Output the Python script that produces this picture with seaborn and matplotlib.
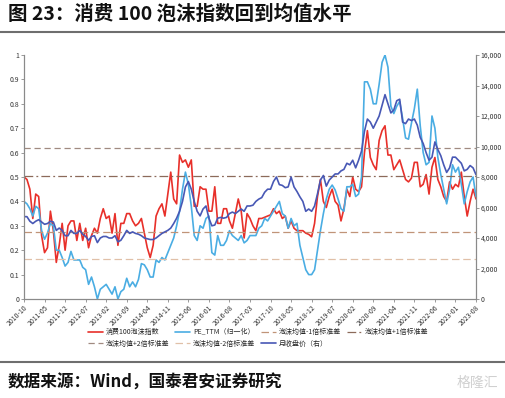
import numpy as np
import pandas as pd
import matplotlib
matplotlib.use("Agg")
import matplotlib.pyplot as plt
from matplotlib.lines import Line2D
import seaborn as sns

# datos (mensual, 2010-10 a 2023-08)
meses = pd.date_range("2010-10-01", periods=155, freq="MS").strftime("%Y-%m").tolist()

burbuja = [
    0.50, 0.49, 0.45, 0.33, 0.43, 0.42, 0.26, 0.19, 0.21, 0.36,
    0.28, 0.15, 0.22, 0.31, 0.20, 0.30, 0.32, 0.32, 0.24, 0.31,
    0.24, 0.29, 0.21, 0.26, 0.29, 0.27, 0.33, 0.37, 0.33, 0.34,
    0.27, 0.35, 0.22, 0.31, 0.31, 0.35, 0.35, 0.32, 0.30, 0.31,
    0.33, 0.27, 0.21, 0.17, 0.22, 0.34, 0.37, 0.39, 0.34, 0.43,
    0.52, 0.41, 0.39, 0.59, 0.56, 0.57, 0.54, 0.57, 0.38, 0.38,
    0.46, 0.45, 0.45, 0.36, 0.36, 0.46, 0.31, 0.31, 0.37, 0.37,
    0.32, 0.29, 0.35, 0.41, 0.36, 0.25, 0.35, 0.33, 0.30, 0.28,
    0.33, 0.33, 0.335, 0.34, 0.345, 0.37, 0.35, 0.36, 0.33, 0.34,
    0.29, 0.32, 0.29, 0.28, 0.28, 0.28, 0.27, 0.265, 0.255, 0.31,
    0.42, 0.49, 0.40, 0.375, 0.42, 0.45, 0.40, 0.385, 0.32, 0.37,
    0.45, 0.42, 0.50, 0.45, 0.44, 0.46, 0.60, 0.69, 0.58, 0.55,
    0.53, 0.65, 0.69, 0.71, 0.59, 0.59, 0.53, 0.55, 0.57, 0.53,
    0.49, 0.48, 0.495, 0.56, 0.56, 0.46, 0.47, 0.51, 0.43, 0.54,
    0.58, 0.49, 0.46, 0.42, 0.40, 0.48, 0.45, 0.47, 0.46, 0.52,
    0.42, 0.34, 0.40, 0.45, 0.41,
]

pe_ttm = [
    0.40, 0.39, 0.37, 0.34, 0.38, 0.37, 0.28, 0.245, 0.27, 0.31,
    0.30, 0.20, 0.20, 0.17, 0.135, 0.15, 0.195, 0.16, 0.16, 0.16,
    0.13, 0.12, 0.06, 0.09, 0.05, 0.00, 0.04, 0.05, 0.06, 0.04,
    0.02, 0.05, 0.00, 0.03, 0.04, 0.085, 0.05, 0.07, 0.05, 0.08,
    0.145, 0.14, 0.12, 0.09, 0.09, 0.16, 0.15, 0.17, 0.16, 0.19,
    0.22, 0.25, 0.30, 0.36, 0.45, 0.52, 0.47, 0.38, 0.26, 0.24,
    0.30, 0.29, 0.33, 0.34, 0.19, 0.18, 0.26, 0.22, 0.22, 0.24,
    0.28, 0.26, 0.25, 0.24, 0.26, 0.23, 0.24, 0.26, 0.26, 0.26,
    0.29, 0.30, 0.33, 0.32, 0.34, 0.36, 0.38, 0.40, 0.35, 0.34,
    0.29, 0.33, 0.30, 0.31, 0.22, 0.17, 0.12, 0.10, 0.10, 0.12,
    0.20, 0.28, 0.35, 0.41, 0.45, 0.467, 0.447, 0.41, 0.37, 0.36,
    0.46, 0.46, 0.47, 0.42, 0.43, 0.50, 0.89, 0.89, 0.86, 0.80,
    0.80, 0.88, 0.97, 1.00, 0.95, 0.79, 0.76, 0.79, 0.81, 0.74,
    0.66, 0.655, 0.72, 0.78, 0.86, 0.71, 0.60, 0.55, 0.56, 0.75,
    0.70, 0.58, 0.51, 0.45, 0.39, 0.45, 0.55, 0.52, 0.54, 0.47,
    0.39, 0.44, 0.48, 0.50, 0.42,
]

cierre = [
    5400, 5400, 5100, 4950, 5100, 5200, 5050, 4900, 4950, 5100,
    5050, 4500, 4650, 4500, 4150, 4150, 4500, 4300, 4300, 4500,
    4250, 4100, 3850, 4100, 4150, 3700, 4000, 4100, 4100, 4000,
    4000, 4150, 3750, 3850, 4150, 4500, 4300, 4400, 4300, 4250,
    4150, 4000, 3950, 3900, 3900, 4000, 4150, 4300, 4400, 4500,
    4650, 4950, 5300, 5750, 6400, 7350, 7700, 7200, 6400, 5750,
    5450, 5900, 6100, 5300, 4800, 4850, 5300, 5350, 5300, 5350,
    5600, 5700, 5600, 5750, 5900, 5750, 6100, 6100, 6150, 6400,
    6550, 6650, 7000, 7200, 7200, 7700, 8000, 7500, 7450, 7300,
    7350, 8000, 7350, 7050, 6700, 6400, 5750, 5900, 5750, 6100,
    6900, 7800, 8100, 7400, 7800, 8000, 8200, 8200, 8400, 8500,
    8900, 8800, 9100, 8600, 9100, 9700, 11000, 11800, 11600, 11200,
    11600, 12000, 12700, 13400, 12800, 12200, 12400, 13000, 13100, 11600,
    11500, 11800, 11700, 11800, 11400, 10600, 10200, 9600, 9100, 9300,
    10300, 9800, 9400, 8800, 8300, 8600, 9300, 9300, 9100, 8900,
    8400, 8500, 8750, 8600, 8150,
]

# niveles de las bandas (media +/- desviaciones)
bandas = {
    "泡沫均值-1倍标准差": 0.275,
    "泡沫均值+1倍标准差": 0.505,
    "泡沫均值+2倍标准差": 0.62,
    "泡沫均值-2倍标准差": 0.162,
}
estilos_banda = {
    "泡沫均值-1倍标准差": ("#c09478", (0, (6, 3))),
    "泡沫均值+1倍标准差": ("#8c6a5a", (0, (7, 2.5, 1.5, 2.5))),
    "泡沫均值+2倍标准差": ("#a08a80", (0, (5, 3))),
    "泡沫均值-2倍标准差": ("#e0c0a8", (0, (6, 3))),
}

sns.set_theme(style="white")
plt.rcParams["font.family"] = ["Noto Sans CJK SC", "DejaVu Sans"]
plt.rcParams["axes.unicode_minus"] = False

W, H = 506, 398
fig = plt.figure(figsize=(W / 100, H / 100), dpi=100)
ax = fig.add_axes([24 / W, 1 - 299 / H, 452 / W, 244 / H])
ax2 = ax.twinx()

x = np.arange(len(meses))
sns.lineplot(x=x, y=burbuja, ax=ax, color="#e8302a", lw=1.2, label="消费100泡沫指数")
sns.lineplot(x=x, y=pe_ttm, ax=ax, color="#4aade3", lw=1.2, label="PE_TTM（归一化）")
for nombre, nivel in bandas.items():
    c, ls = estilos_banda[nombre]
    ax.axhline(nivel, color=c, ls=ls, lw=0.9, label=nombre)
sns.lineplot(x=x, y=cierre, ax=ax2, color="#4858b5", lw=1.2, label="月收盘价（右）")

ax.set_xlim(0, len(meses) - 1)
ax.set_ylim(0, 1)
ax2.set_ylim(0, 16000)
ax.set_xticks(x[::7])
ax.set_xticklabels([meses[i] for i in x[::7]], rotation=45, ha="right",
                   rotation_mode="anchor", fontsize=5)
ax.set_yticks(np.arange(0, 1.01, 0.1))
ax.set_yticklabels([f"{v:g}" for v in np.arange(0, 1.01, 0.1).round(1)], fontsize=5)
ax2.set_yticks(np.arange(0, 16001, 2000))
ax2.set_yticklabels([f"{v:,}" for v in range(0, 16001, 2000)], fontsize=5)

for a in (ax, ax2):
    a.set_xlabel("")
    a.set_ylabel("")
    a.spines["top"].set_visible(False)
    for s in ("left", "right", "bottom"):
        a.spines[s].set_color("#8a8a8a")
        a.spines[s].set_linewidth(0.8)
    a.tick_params(length=2, width=0.6, color="#8a8a8a", pad=1.5, labelcolor="#333333")
    a.grid(False)
ax.tick_params(axis="both", left=True, bottom=True)
ax2.tick_params(axis="y", right=True)

# leyenda en dos filas (orden por columnas)
h1, l1 = ax.get_legend_handles_labels()
h2, l2 = ax2.get_legend_handles_labels()
ax.get_legend().remove()
ax2.get_legend().remove()
hs, ls_ = h1 + h2, l1 + l2
orden = [0, 4, 1, 5, 2, 6, 3]
fig.legend([hs[i] for i in orden], [ls_[i] for i in orden], ncol=4,
           loc="center", bbox_to_anchor=(0.51, 1 - 338 / H), frameon=False,
           fontsize=5, handlelength=2.2, columnspacing=0.8, labelspacing=0.5,
           handletextpad=0.4)

# titulo, pie y separadores
fig.text(8 / W, 1 - 14 / H, "图 23：消费 100 泡沫指数回到均值水平", fontsize=14,
         fontweight="bold", va="center", ha="left", color="#111111")
fig.add_artist(Line2D([0, 1], [1 - 32 / H, 1 - 32 / H], transform=fig.transFigure,
                      color="#6e6e6e", lw=1.5))
fig.add_artist(Line2D([0, 1], [1 - 362 / H, 1 - 362 / H], transform=fig.transFigure,
                      color="#6e6e6e", lw=1.5))
fig.text(8 / W, 1 - 383 / H, "数据来源：Wind，国泰君安证券研究", fontsize=12,
         fontweight="bold", va="center", ha="left", color="#111111")
fig.text(498 / W, 1 - 383 / H, "格隆汇", fontsize=10, va="center", ha="right",
         color="#d0d0d0")

plt.savefig("out.png", dpi=100)
plt.close()
